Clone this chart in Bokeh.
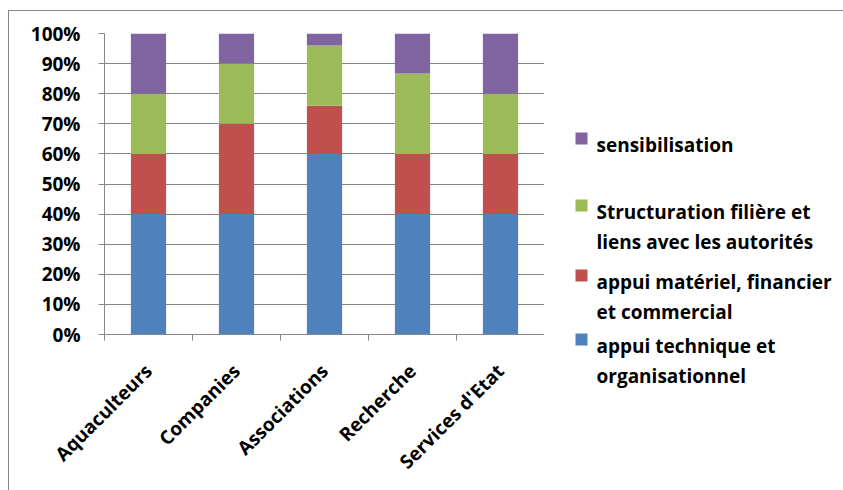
import math

from bokeh.plotting import figure
from bokeh.layouts import row
from bokeh.core.properties import value
from bokeh.models import ColumnDataSource, Range1d, FixedTicker, PrintfTickFormatter
from bokeh.embed import file_html
from bokeh.resources import INLINE

# Share of each type of support, per stakeholder group (percent of answers)
categories = ["Aquaculteurs", "Companies", "Associations", "Recherche", "Services d'Etat"]
appui_technique = [40, 40, 60, 40, 40]
appui_materiel = [20, 30, 16, 20, 20]
structuration = [20, 20, 20, 26.7, 20]
sensibilisation = [20, 10, 4, 13.3, 20]

series_keys = ["technique", "materiel", "structuration", "sensibilisation"]
series_colors = ["#4F81BD", "#C0504D", "#9BBB59", "#8064A2"]
# legend entries, listed top to bottom, each one split into its lines
legend_lines = [
    ["sensibilisation"],
    ["Structuration filière et", "liens avec les autorités"],
    ["appui matériel, financier", "et commercial"],
    ["appui technique et", "organisationnel"],
]
legend_colors = ["#8064A2", "#9BBB59", "#C0504D", "#4F81BD"]
y_ticks = [0, 10, 20, 30, 40, 50, 60, 70, 80, 90, 100]

FONT = "Open Sans"
GRAY = "#868686"
H = 479

centers = [i + 0.5 for i in range(len(categories))]
source = ColumnDataSource(dict(
    x=centers,
    technique=appui_technique,
    materiel=appui_materiel,
    structuration=structuration,
    sensibilisation=sensibilisation,
))

p = figure(
    width=535, height=H,
    x_range=Range1d(0, len(categories)), y_range=Range1d(0, 100),
    output_backend="svg", toolbar_location=None,
    min_border_left=95, min_border_right=0, min_border_top=22, min_border_bottom=156,
)
p.outline_line_color = None

p.vbar_stack(series_keys, x="x", width=0.4, source=source,
             color=series_colors, line_color=None)

# y axis: percent ticks every 10
p.yaxis.ticker = FixedTicker(ticks=y_ticks)
p.yaxis.formatter = PrintfTickFormatter(format="%d%%")
p.yaxis.axis_line_color = GRAY
p.yaxis.major_tick_line_color = GRAY
p.yaxis.major_tick_out = 6
p.yaxis.major_tick_in = 0
p.yaxis.minor_tick_line_color = None
p.yaxis.major_label_standoff = 18
p.yaxis.major_label_text_font = FONT
p.yaxis.major_label_text_font_style = "bold"
p.yaxis.major_label_text_font_size = "19px"
p.yaxis.major_label_text_color = "black"

p.ygrid.ticker = FixedTicker(ticks=y_ticks)
p.ygrid.grid_line_color = GRAY
p.xgrid.grid_line_color = None

# x axis: names at bar centres, tick marks between the groups
p.xaxis.ticker = FixedTicker(ticks=centers, minor_ticks=list(range(len(categories) + 1)))
p.xaxis.major_label_overrides = {c: name for c, name in zip(centers, categories)}
p.xaxis.major_label_orientation = math.pi / 4
p.xaxis.axis_line_color = GRAY
p.xaxis.major_tick_line_color = None
p.xaxis.minor_tick_line_color = GRAY
p.xaxis.minor_tick_out = 6
p.xaxis.minor_tick_in = 0
p.xaxis.major_label_standoff = 27
p.xaxis.major_label_text_font = FONT
p.xaxis.major_label_text_font_style = "bold"
p.xaxis.major_label_text_font_size = "19px"
p.xaxis.major_label_text_color = "black"

# legend panel, laid out in pixels (y grows downwards)
lg = figure(
    width=299, height=H,
    x_range=Range1d(0, 299), y_range=Range1d(H, 0),
    output_backend="svg", toolbar_location=None,
    x_axis_location=None, y_axis_location=None,
    min_border=0,
)
lg.frame_align = False
lg.outline_line_color = None
lg.grid.grid_line_color = None

swatch_x = 37
text_x = 52
first_baselines = [133, 200, 270, 334]
line_gap = 30

sw_y, tx, ty, tt = [], [], [], []
for lines, base in zip(legend_lines, first_baselines):
    sw_y.append(base - 6)
    for k, line in enumerate(lines):
        tx.append(text_x)
        ty.append(base + k * line_gap)
        tt.append(line)

lg.scatter(x=[swatch_x] * len(sw_y), y=sw_y, marker="square", size=12,
           fill_color=legend_colors, line_color=None)
lg.text(x=tx, y=ty, text=tt, text_baseline="alphabetic", text_align="left",
        text_font=value(FONT), text_font_style="bold",
        text_font_size="19px", text_color="black")

layout = row(p, lg, styles={"margin-left": "8px", "margin-top": "10px",
                            "border-left": f"1px solid {GRAY}",
                            "border-top": f"1px solid {GRAY}"})

open("out.html", "w").write(file_html(layout, INLINE))
